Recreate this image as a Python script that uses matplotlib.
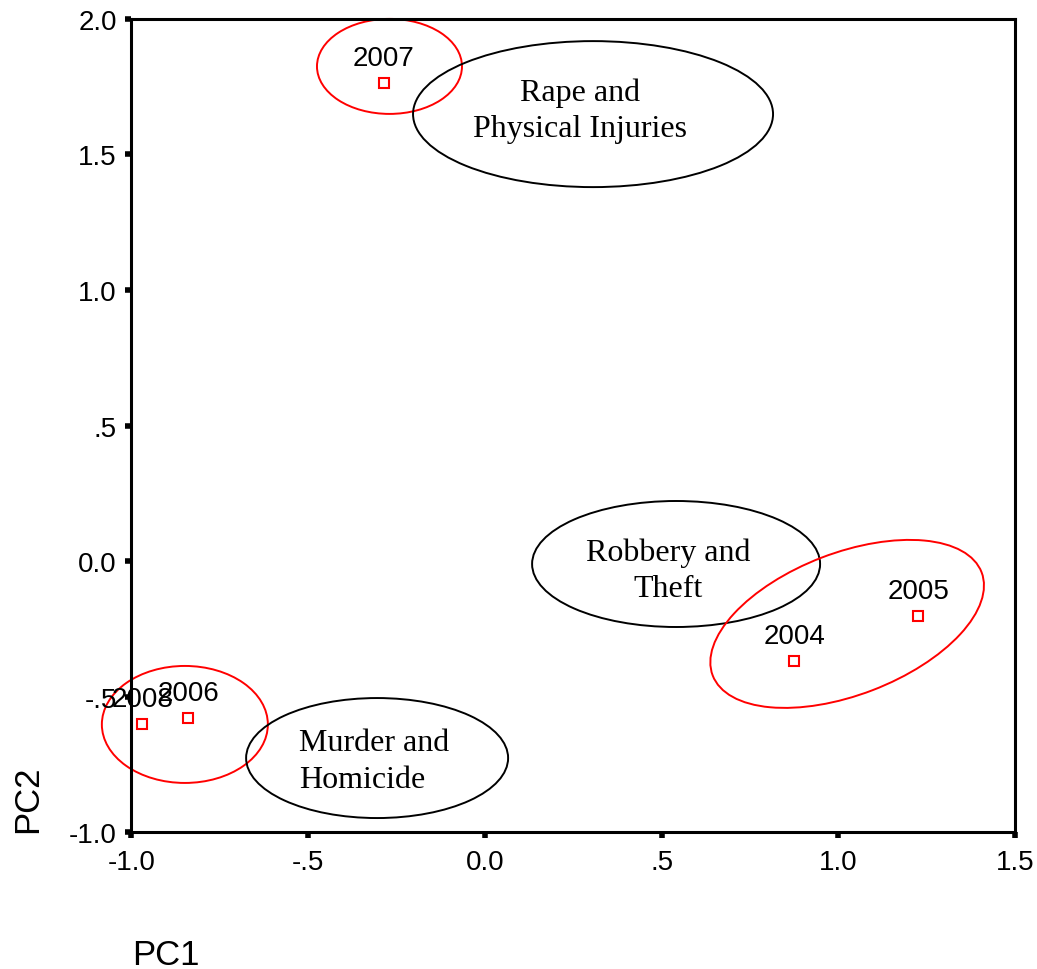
#!/usr/bin/env python3
"""PCA biplot of crime categories by year (PC1 vs PC2), with grouping ellipses."""

import matplotlib
matplotlib.use("Agg")
import matplotlib.pyplot as plt
from matplotlib.patches import Ellipse
from matplotlib.transforms import ScaledTranslation

# year scores
years = ["2004", "2005", "2006", "2007", "2008"]
pc1 = [0.875, 1.226, -0.840, -0.286, -0.970]
pc2 = [-0.369, -0.203, -0.581, 1.764, -0.601]

# axis ticks
xticks = [-1.0, -0.5, 0.0, 0.5, 1.0, 1.5]
xticklabels = ["-1.0", "-.5", "0.0", ".5", "1.0", "1.5"]
yticks = [-1.0, -0.5, 0.0, 0.5, 1.0, 1.5, 2.0]
yticklabels = ["-1.0", "-.5", "0.0", ".5", "1.0", "1.5", "2.0"]

# grouping ellipses: centre (data), width/height (px), angle, colour
ell_centers = [(-0.270, 1.825), (0.306, 1.649), (0.541, -0.011),
               (1.025, -0.232), (-0.849, -0.603), (-0.305, -0.727)]
ell_sizes = [(145, 95), (360, 146), (288, 126), (288, 142), (166, 117), (262, 120)]
ell_angles = [0, 0, 0, 21, 0, 0]
ell_colors = ["red", "black", "black", "red", "red", "black"]

# crime group labels
group_labels = ["Rape and\nPhysical Injuries", "Robbery and\nTheft", "Murder and\nHomicide"]
group_pos = [(0.269, 1.664), (0.518, -0.033), (-0.526, -0.738)]
group_ha = ["center", "center", "left"]

SANS = ["Liberation Sans", "DejaVu Sans"]
SERIF = ["Liberation Serif", "DejaVu Serif"]

fig = plt.figure(figsize=(10.37, 9.70), dpi=100)
ax = fig.add_axes([0.1268, 0.1412, 0.9788 - 0.1268, 0.9794 - 0.1412])

ax.set_xlim(-1.0, 1.5)
ax.set_ylim(-1.0, 2.0)

for sp in ax.spines.values():
    sp.set_linewidth(2.2)
    sp.set_color("black")

ax.set_xticks(xticks)
ax.set_xticklabels(xticklabels, family=SANS, fontsize=20)
ax.set_yticks(yticks)
ax.set_yticklabels(yticklabels, family=SANS, fontsize=20)
ax.tick_params(axis="both", direction="out", length=4.5, width=4, color="black")
ax.tick_params(axis="x", pad=8)
ax.tick_params(axis="y", pad=6)

# ellipses drawn in pixel size, centred in data coords
for (cx, cy), (w, h), ang, col in zip(ell_centers, ell_sizes, ell_angles, ell_colors):
    tr = fig.dpi_scale_trans + ScaledTranslation(cx, cy, ax.transData)
    e = Ellipse((0, 0), w / 100.0, h / 100.0, angle=ang, transform=tr,
                fill=False, edgecolor=col, linewidth=1.4, clip_on=False)
    ax.add_patch(e)

for lab, (x, y), ha in zip(group_labels, group_pos, group_ha):
    ax.text(x, y, lab, ha=ha, va="center", multialignment=ha,
            family=SERIF, fontsize=23, linespacing=1.33)

ax.plot(pc1, pc2, linestyle="none", marker="s", markersize=7,
        markerfacecolor="white", markeredgecolor="red", markeredgewidth=1.5,
        clip_on=False)

for yr, x, y in zip(years, pc1, pc2):
    ax.annotate(yr, (x, y), xytext=(0, 13), textcoords="offset points",
                ha="center", va="baseline", family=SANS, fontsize=20)

fig.text(28 / 1037, 1 - 833 / 970, "PC2", rotation=90, ha="center", va="bottom",
         family=SANS, fontsize=25)
fig.text(132 / 1037, 1 - 965 / 970, "PC1", ha="left", va="baseline",
         family=SANS, fontsize=25)

fig.savefig("out.png", dpi=100)
